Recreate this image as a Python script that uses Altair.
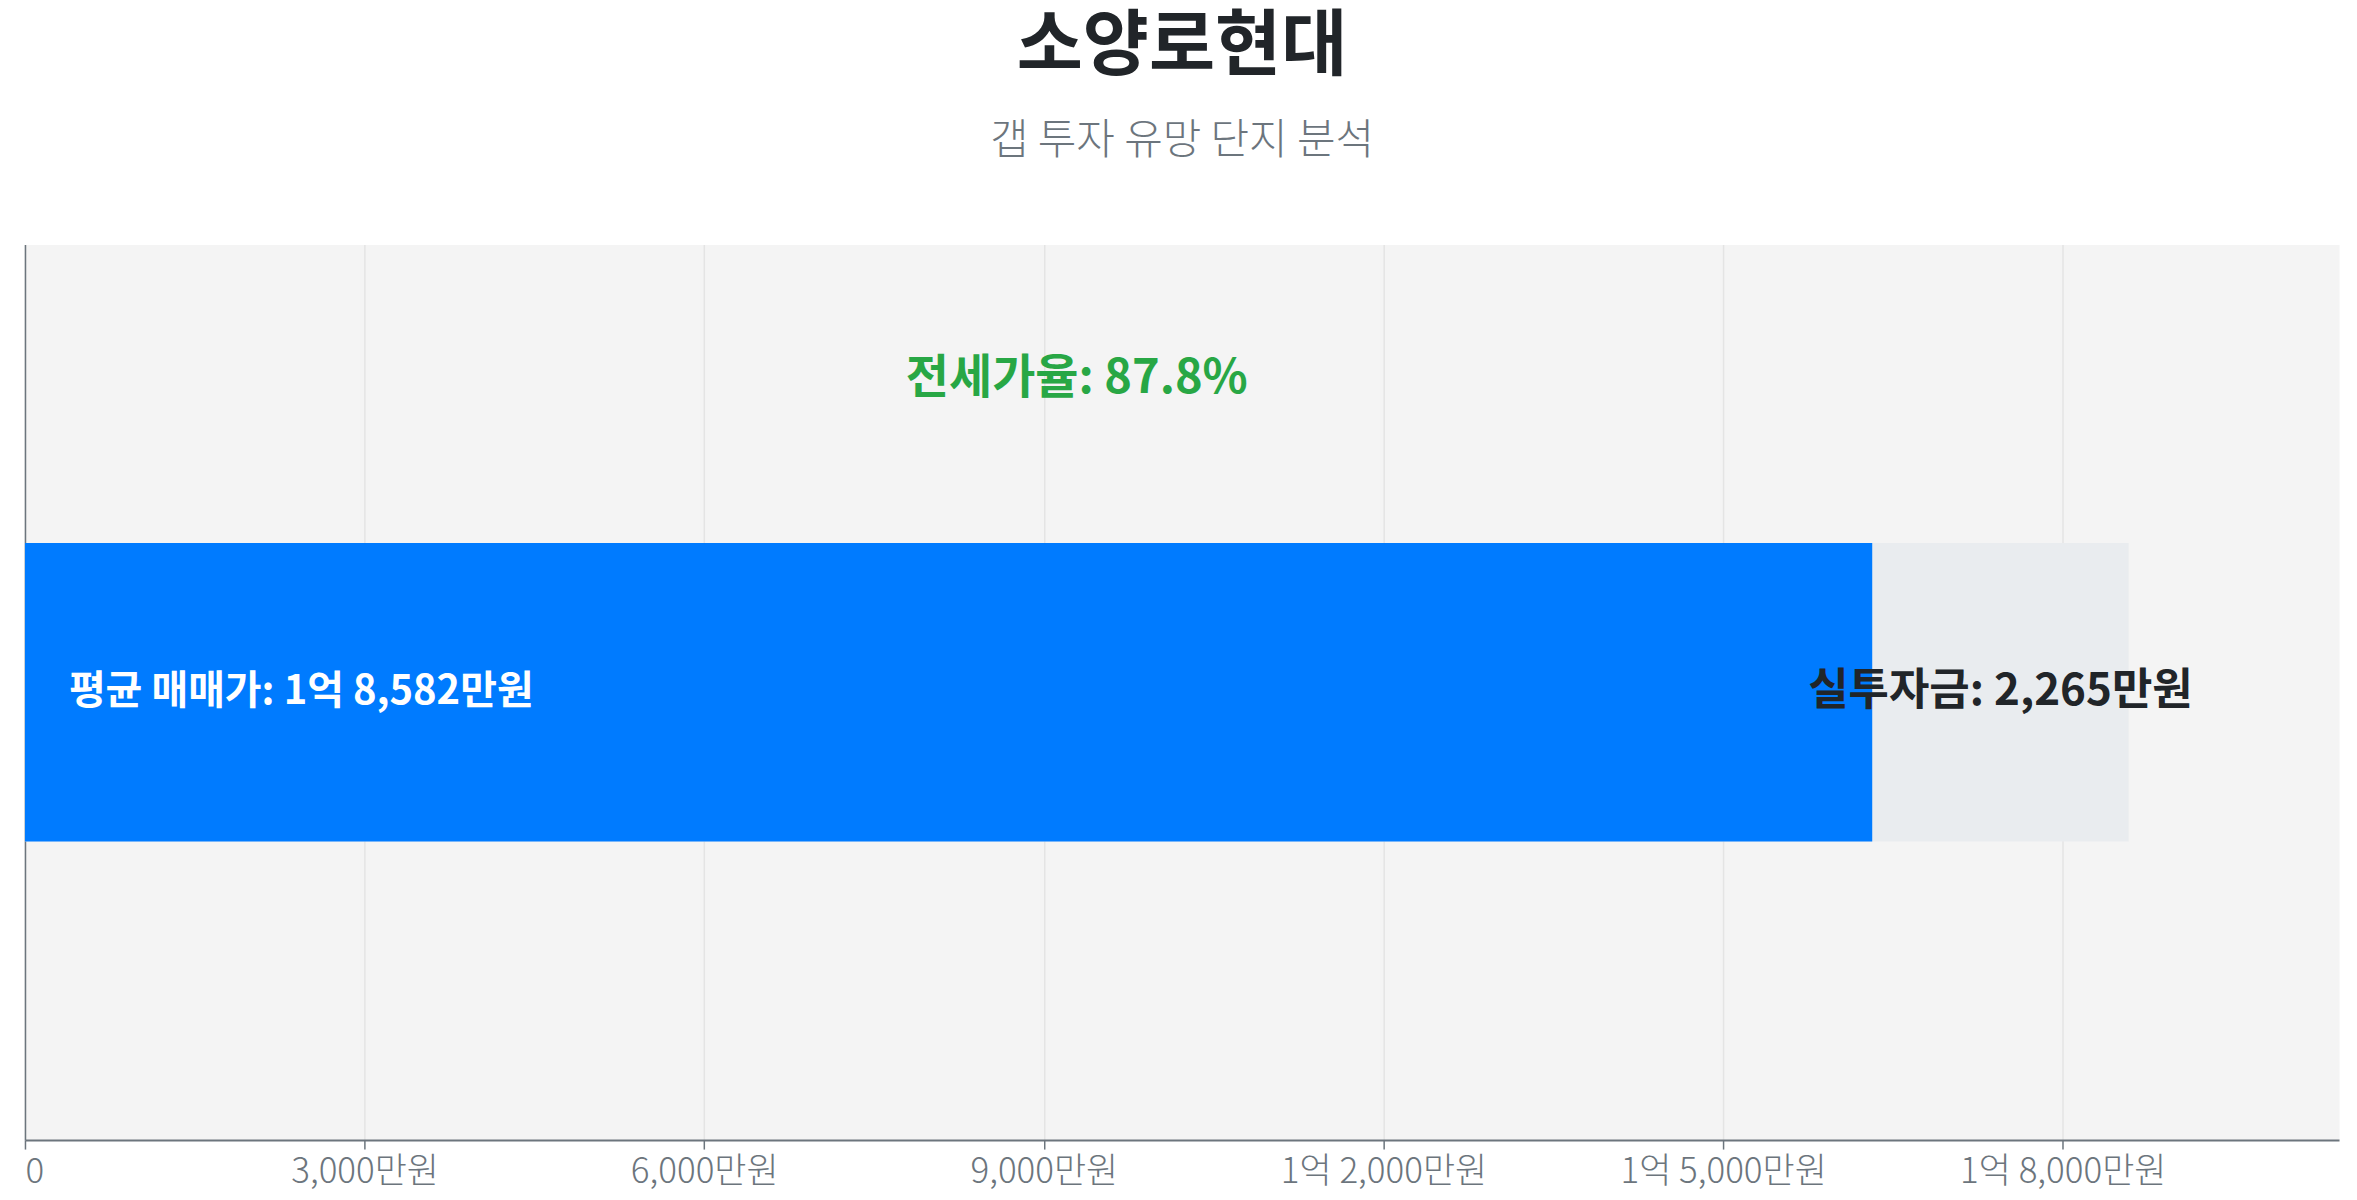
import altair as alt
import pandas as pd

complex_name = "소양로현대"
subtitle_text = "갭 투자 유망 단지 분석"
avg_price = 18582        # 만원
invest_amount = 2265     # 만원
jeonse_ratio = 87.8      # %
tick_values = [0, 3000, 6000, 9000, 12000, 15000, 18000]

jeonse_amount = avg_price - invest_amount

df = pd.DataFrame({
    "row": ["단지"],
    "price": [avg_price],
    "jeonse": [jeonse_amount],
    "zero": [0],
    "mid_price": [avg_price / 2],
    "mid_invest": [jeonse_amount + invest_amount / 2],
    "price_label": ["평균 매매가: 1억 8,582만원"],
    "invest_label": [f"실투자금: {invest_amount:,}만원"],
    "ratio_label": [f"전세가율: {jeonse_ratio}%"],
})

FONT = "Noto Sans CJK KR"

label_expr = (
    "datum.value == 0 ? '0' : (datum.value >= 10000 ? "
    "floor(datum.value / 10000) + '억 ' + format(datum.value % 10000, ',') + '만원' : "
    "format(datum.value, ',') + '만원')"
)

x_scale = alt.Scale(domain=[0, avg_price * 1.1], nice=False, zero=True)
y_scale = alt.Scale(paddingInner=0, paddingOuter=1)

base = alt.Chart(df)

gray_bar = base.mark_bar(color="#e9ecef").encode(
    x=alt.X("zero:Q", scale=x_scale,
            axis=alt.Axis(values=tick_values, labelExpr=label_expr, title=None,
                          grid=True, gridColor="#e4e4e4", gridWidth=1.5,
                          domainColor="#6c757d", domainWidth=2,
                          tickColor="#6c757d", tickSize=9, tickWidth=1.5,
                          labelColor="#6c757d", labelFontSize=35, labelFont=FONT,
                          labelFontWeight=300, labelLimit=0, labelPadding=5)),
    x2="price:Q",
    y=alt.Y("row:N", scale=y_scale,
            axis=alt.Axis(title=None, labels=False, ticks=False, grid=False,
                          domainColor="#6c757d", domainWidth=1.5)),
)

blue_bar = base.mark_bar(color="#007bff").encode(
    x=alt.X("zero:Q", scale=x_scale),
    x2="jeonse:Q",
    y=alt.Y("row:N", scale=y_scale),
)

price_text = base.mark_text(align="left", baseline="middle", dx=44, font=FONT,
                            fontSize=40, fontWeight="bold", color="white").encode(
    x=alt.X("zero:Q", scale=x_scale),
    y=alt.Y("row:N", scale=y_scale),
    text="price_label:N",
)

invest_text = base.mark_text(align="center", baseline="middle", font=FONT,
                             fontSize=44, fontWeight="bold", color="#212529").encode(
    x=alt.X("mid_invest:Q", scale=x_scale),
    y=alt.Y("row:N", scale=y_scale),
    text="invest_label:N",
)

ratio_text = base.mark_text(align="center", baseline="middle", dy=-314, font=FONT,
                            fontSize=47, fontWeight="bold", color="#28a745").encode(
    x=alt.X("mid_price:Q", scale=x_scale),
    y=alt.Y("row:N", scale=y_scale),
    text="ratio_label:N",
)

chart = alt.layer(gray_bar, blue_bar, price_text, invest_text, ratio_text).properties(
    width=2318,
    height=897,
    padding={"left": 16, "top": 2, "right": 10, "bottom": 6},
    title=alt.TitleParams(
        text=complex_name,
        subtitle=subtitle_text,
        anchor="middle",
        font=FONT,
        fontSize=72,
        fontWeight="bold",
        color="#212529",
        subtitleFont=FONT,
        subtitleFontSize=42,
        subtitleFontWeight=300,
        subtitleColor="#6c757d",
        subtitlePadding=37,
        offset=82,
    ),
).configure(background="white").configure_view(fill="#f4f4f4", stroke="transparent")

chart.save("out.html", embed_options={"renderer": "svg", "actions": False})
